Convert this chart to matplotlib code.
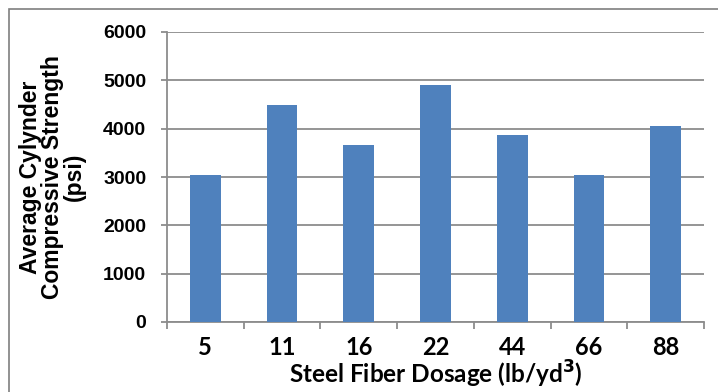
import matplotlib.pyplot as plt
from matplotlib.patches import Rectangle
from matplotlib.ticker import FixedLocator, NullFormatter

# Steel fiber dosage (lb/yd3) and average cylinder strength (psi)
dosages = ['5', '11', '16', '22', '44', '66', '88']
strength = [3050, 4490, 3660, 4910, 3860, 3050, 4060]

bar_color = '#4F81BD'
grid_color = '#8C8C8C'

fig = plt.figure(figsize=(7.18, 3.92), dpi=100)
ax = fig.add_axes([167 / 718, 1 - 322 / 392, (704 - 167) / 718, (322 - 32) / 392])

x = list(range(len(dosages)))
ax.bar(x, strength, width=0.4, color=bar_color, zorder=3)

ax.set_xlim(-0.5, len(dosages) - 0.5)
ax.set_ylim(0, 6000)
ax.set_yticks(range(0, 6001, 1000))
ax.yaxis.grid(True, color=grid_color, linewidth=1.3, zorder=0)

# ticks on category boundaries, labels centred on the bars
ax.xaxis.set_major_locator(FixedLocator([i - 0.5 for i in range(len(dosages) + 1)]))
ax.xaxis.set_major_formatter(NullFormatter())
ax.set_xticks(x, minor=True)
ax.set_xticklabels(dosages, minor=True, fontfamily='Lato', fontweight='bold', fontsize=17)
ax.tick_params(axis='x', which='major', length=5, width=1.3, color=grid_color, direction='out')
ax.tick_params(axis='x', which='minor', length=0, pad=10)
ax.tick_params(axis='y', length=4, width=1.3, color=grid_color, pad=11)
for lab in ax.get_yticklabels():
    lab.set_fontfamily('Liberation Sans')
    lab.set_fontweight('bold')
    lab.set_fontsize(14)

for side in ['top', 'right']:
    ax.spines[side].set_visible(False)
for side in ['left', 'bottom']:
    ax.spines[side].set_color(grid_color)
    ax.spines[side].set_linewidth(1.3)

ax.set_xlabel('Steel Fiber Dosage (lb/yd$^\\mathbf{3}$)', fontfamily='Lato',
              fontweight='bold', fontsize=17.5, labelpad=0)
ax.set_ylabel('Average Cylynder\nCompressive Strength\n(psi)', fontfamily='Liberation Sans',
              fontweight='bold', fontsize=16.5, linespacing=0.95, labelpad=12)

# chart border
fig.patches.append(Rectangle((9 / 718, -0.1), 1.1, 1 - 9 / 392 + 0.1, transform=fig.transFigure,
                             fill=False, edgecolor='#7F7F7F', linewidth=1.2))

fig.savefig('out.png', dpi=100)
